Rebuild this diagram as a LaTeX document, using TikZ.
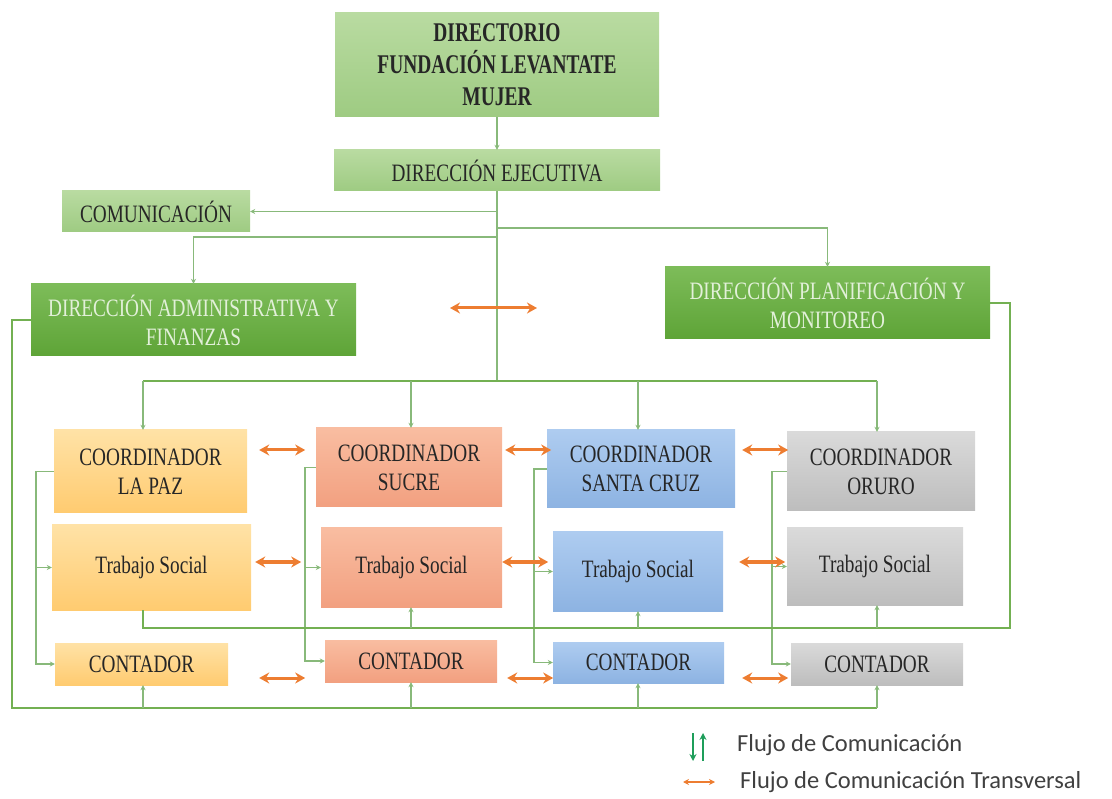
\documentclass[tikz,border=0pt]{standalone}
\usepackage{fontspec}
\usetikzlibrary{arrows.meta}
\newfontfamily\boxfont[FakeStretch=0.77]{Liberation Serif}
\newfontfamily\topfont[FakeStretch=0.72]{Liberation Serif}
\newfontfamily\legfont{Carlito}

\definecolor{lightgreenA}{HTML}{B9DBA1}
\definecolor{lightgreenB}{HTML}{9ECB82}
\definecolor{midgreenA}{HTML}{7DBC59}
\definecolor{midgreenB}{HTML}{5EA437}
\definecolor{lapazA}{HTML}{FFE2A6}
\definecolor{lapazB}{HTML}{FFCB70}
\definecolor{sucreA}{HTML}{F9BDA1}
\definecolor{sucreB}{HTML}{F2A080}
\definecolor{cruzA}{HTML}{AECCF0}
\definecolor{cruzB}{HTML}{8DB3E2}
\definecolor{oruroA}{HTML}{DADADA}
\definecolor{oruroB}{HTML}{BDBDBD}
\definecolor{boxtext}{HTML}{262626}
\definecolor{lighttext}{HTML}{E2F0D9}
\definecolor{flowgreen}{HTML}{88B97A}
\definecolor{busgreen}{HTML}{73B052}
\definecolor{transorange}{HTML}{ED7D31}
\definecolor{leggreen}{HTML}{1E9E5A}
\definecolor{legtextc}{HTML}{404040}

\begin{document}
\begin{tikzpicture}[x=1pt, y=-1pt,
    box/.style={inner sep=0pt, align=center, text=boxtext,
        font=\boxfont\fontsize{25}{29}\selectfont},
    light/.style={top color=lightgreenA, bottom color=lightgreenB},
    dark/.style={top color=midgreenA, bottom color=midgreenB, text=lighttext},
    lapaz/.style={top color=lapazA, bottom color=lapazB},
    sucre/.style={top color=sucreA, bottom color=sucreB},
    cruz/.style={top color=cruzA, bottom color=cruzB},
    oruro/.style={top color=oruroA, bottom color=oruroB},
    flow/.style={draw=flowgreen, line width=1.4pt, -{Stealth[length=5pt,width=5pt]}},
    bus/.style={draw=busgreen, line width=2.2pt},
    trans/.style={draw=transorange, line width=3pt,
        {Stealth[length=10pt,width=11pt]}-{Stealth[length=10pt,width=11pt]}},
    legtext/.style={inner sep=0pt, text=legtextc,
        font=\legfont\fontsize{24.5}{28}\selectfont},
    ]

    \useasboundingbox (0,0) rectangle (1112,799);

    \node[box, light, minimum width=324, minimum height=104,
        font=\topfont\fontsize{27}{32}\selectfont\bfseries] (dir) at (497,65)
        {DIRECTORIO\\FUNDACIÓN LEVANTATE\\MUJER};
    \node[box, light, minimum width=326, minimum height=41] (ejec) at (497,170.5) {DIRECCIÓN EJECUTIVA};
    \node[box, light, minimum width=188, minimum height=41] (com) at (156,211.5) {COMUNICACIÓN};
    \node[box, dark, minimum width=325, minimum height=72] (admin) at (193.5,320) {DIRECCIÓN ADMINISTRATIVA Y\\FINANZAS};
    \node[box, dark, minimum width=325, minimum height=72] (plan) at (827.5,303) {DIRECCIÓN PLANIFICACIÓN Y\\MONITOREO};

    \node[box, lapaz, minimum width=193, minimum height=83] (coordLP) at (150.5,471.5) {COORDINADOR\\LA PAZ};
    \node[box, lapaz, minimum width=199, minimum height=85] (tsLP) at (151.5,567.5) {Trabajo Social};
    \node[box, lapaz, minimum width=173, minimum height=42] (contLP) at (141.5,664) {CONTADOR};

    \node[box, sucre, minimum width=186, minimum height=79] (coordSU) at (409,467.5) {COORDINADOR\\SUCRE};
    \node[box, sucre, minimum width=181, minimum height=79] (tsSU) at (411.5,567.5) {Trabajo Social};
    \node[box, sucre, minimum width=172, minimum height=42] (contSU) at (411,661) {CONTADOR};

    \node[box, cruz, minimum width=188, minimum height=78] (coordSC) at (641,469) {COORDINADOR\\SANTA CRUZ};
    \node[box, cruz, minimum width=170, minimum height=79] (tsSC) at (638,571.5) {Trabajo Social};
    \node[box, cruz, minimum width=171, minimum height=41] (contSC) at (638.5,662.5) {CONTADOR};

    \node[box, oruro, minimum width=188, minimum height=79] (coordOR) at (881,471.5) {COORDINADOR\\ORURO};
    \node[box, oruro, minimum width=176, minimum height=77] (tsOR) at (875,566.5) {Trabajo Social};
    \node[box, oruro, minimum width=172, minimum height=42] (contOR) at (877,664) {CONTADOR};

    \coordinate (j1) at (497,237);
    \coordinate (j2) at (497,228);
    \coordinate (cLP) at (143,381);
    \coordinate (cSU) at (411,381);
    \coordinate (cSC) at (638,381);
    \coordinate (cOR) at (877,381);
    \coordinate (busT) at (1010,628);
    \coordinate (busC) at (12,708);
    \coordinate (rowA) at (0,450);
    \coordinate (rowB) at (0,562);
    \coordinate (rowC) at (0,678);
    \coordinate (mid) at (450,308);

    \draw[flow] (dir) -- (ejec);
    \draw[flow] (ejec.south) |- (com.east);
    \draw[flow] (j1) -| (admin.north);
    \draw[flow] (j2) -| (plan.north);
    \draw[draw=flowgreen, line width=1.5pt] (ejec.south) -- (cLP -| ejec.south);

    \draw[bus, line width=1.8pt] (cLP) -- (cOR);
    \draw[flow] (cLP) -- (cLP |- coordLP.north);
    \draw[flow] (cSU) -- (cSU |- coordSU.north);
    \draw[flow] (cSC) -- (cSC |- coordSC.north);
    \draw[flow] (cOR) -- (cOR |- coordOR.north);

    \draw[flow] (coordLP.west) -- ++(-18,0) |- (contLP.west);
    \draw[flow] (coordLP.west) ++(-18,0) |- (tsLP.west);
    \draw[flow] (coordSU.west) -- ++(-11,0) |- (contSU.west);
    \draw[flow] (coordSU.west) ++(-11,0) |- (tsSU.west);
    \draw[flow] (coordSC.west) -- ++(-13,0) |- (contSC.west);
    \draw[flow] (coordSC.west) ++(-13,0) |- (tsSC.west);
    \draw[flow] (coordOR.west) -- ++(-15,0) |- (contOR.west);
    \draw[flow] (coordOR.west) ++(-15,0) |- (tsOR.west);

    \draw[bus] (plan.east) -| (busT) -| (tsLP.south -| cLP);
    \draw[flow] (busT -| cSU) -- (tsSU.south -| cSU);
    \draw[flow] (busT -| cSC) -- (tsSC.south -| cSC);
    \draw[flow] (busT -| cOR) -- (tsOR.south -| cOR);

    \draw[bus] (admin.west) -| (busC) -- (busC -| cOR);
    \draw[flow] (busC -| cLP) -- (contLP.south -| cLP);
    \draw[flow] (busC -| cSU) -- (contSU.south -| cSU);
    \draw[flow] (busC -| cSC) -- (contSC.south -| cSC);
    \draw[flow] (busC -| cOR) -- (contOR.south -| cOR);

    \draw[trans] (mid) -- ++(87,0);
    \draw[trans] (coordLP.east |- rowA) ++(12,0) -- ++(46,0);
    \draw[trans] (coordSU.east |- rowA) ++(3,0) -- ++(46,0);
    \draw[trans] (coordSC.east |- rowA) ++(7,0) -- ++(46,0);
    \draw[trans] (tsLP.east |- rowB) ++(4,0) -- ++(46,0);
    \draw[trans] (tsSU.east |- rowB) -- ++(46,0);
    \draw[trans] (tsSC.east |- rowB) ++(16,0) -- ++(46,0);
    \draw[trans] (contLP.east |- rowC) ++(31,0) -- ++(46,0);
    \draw[trans] (contSU.east |- rowC) ++(10,0) -- ++(46,0);
    \draw[trans] (contSC.east |- rowC) ++(18,0) -- ++(46,0);

    \node[legtext, anchor=west] (leg1) at (737,745) {Flujo de Comunicación};
    \node[legtext, anchor=west] (leg2) at (740,782) {Flujo de Comunicación Transversal};
    \draw[draw=leggreen, line width=2.4pt, -{Stealth[length=7pt,width=7pt]}]
        ([shift={(-44,-12)}]leg1.west) -- ++(0,28);
    \draw[draw=leggreen, line width=2.4pt, -{Stealth[length=7pt,width=7pt]}]
        ([shift={(-34,16)}]leg1.west) -- ++(0,-28);
    \draw[draw=transorange, line width=2.4pt,
        {Stealth[length=6pt,width=6pt]}-{Stealth[length=6pt,width=6pt]}]
        ([xshift=-57pt]leg2.west) -- ++(32,0);

\end{tikzpicture}
\end{document}
